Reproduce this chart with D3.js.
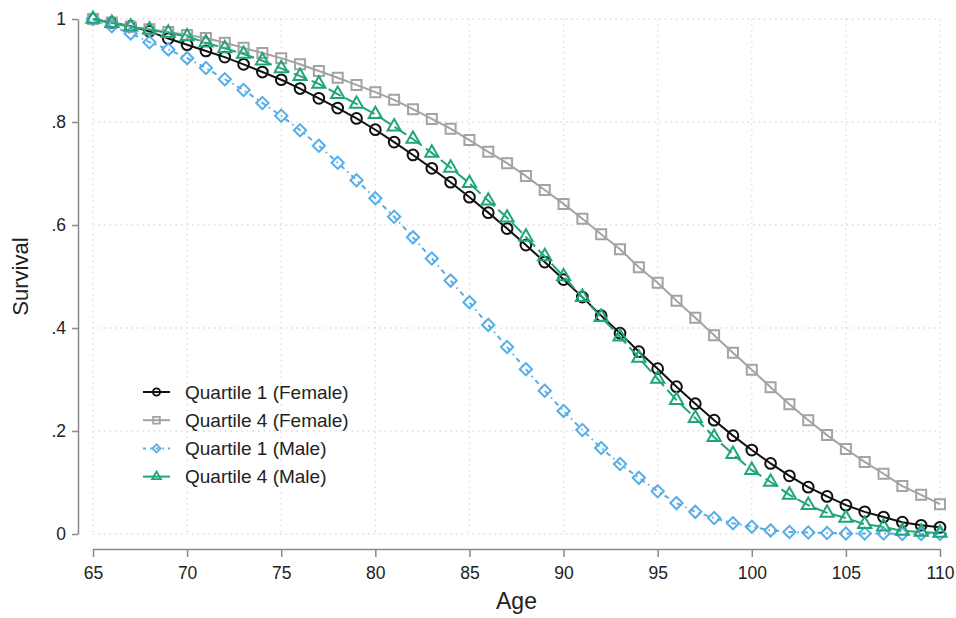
<!DOCTYPE html>
<html>
<head>
<meta charset="utf-8">
<script src="https://cdn.jsdelivr.net/npm/d3@7"></script>
<style>
	body { margin: 0; background: #fff; }
	text { font-family: "Liberation Sans", Arial, sans-serif; fill: #222; }
</style>
</head>
<body>
<svg id="chart"></svg>
<script>
const ages = d3.range(65, 111);

const q1Female = [1, 0.993, 0.986, 0.976, 0.962, 0.950, 0.938, 0.926, 0.912, 0.897,
	0.882, 0.865, 0.846, 0.827, 0.807, 0.785, 0.761, 0.736, 0.710, 0.683,
	0.654, 0.624, 0.593, 0.561, 0.528, 0.494, 0.460, 0.424, 0.390, 0.354,
	0.321, 0.286, 0.253, 0.221, 0.191, 0.163, 0.137, 0.113, 0.091, 0.073,
	0.056, 0.043, 0.033, 0.023, 0.017, 0.013];

const q4Female = [1, 0.993, 0.985, 0.980, 0.975, 0.969, 0.963, 0.954, 0.944, 0.934,
	0.924, 0.912, 0.899, 0.886, 0.872, 0.858, 0.843, 0.825, 0.806, 0.787,
	0.765, 0.742, 0.720, 0.695, 0.668, 0.641, 0.612, 0.582, 0.553, 0.518,
	0.488, 0.453, 0.420, 0.386, 0.352, 0.319, 0.285, 0.252, 0.221, 0.192,
	0.165, 0.140, 0.117, 0.093, 0.076, 0.058];

const q1Male = [1, 0.986, 0.972, 0.955, 0.941, 0.924, 0.905, 0.883, 0.862, 0.837,
	0.812, 0.784, 0.754, 0.721, 0.687, 0.652, 0.616, 0.576, 0.535, 0.492,
	0.450, 0.406, 0.363, 0.320, 0.278, 0.239, 0.202, 0.167, 0.136, 0.109,
	0.083, 0.060, 0.043, 0.031, 0.021, 0.014, 0.007, 0.004, 0.003, 0.002,
	0.001, 0.001, 0.001, 0, 0, 0];

const q4Male = [1, 0.992, 0.985, 0.979, 0.973, 0.966, 0.954, 0.943, 0.932, 0.919,
	0.904, 0.889, 0.874, 0.854, 0.835, 0.815, 0.791, 0.767, 0.740, 0.711,
	0.681, 0.647, 0.614, 0.577, 0.539, 0.500, 0.460, 0.421, 0.383, 0.342,
	0.301, 0.260, 0.225, 0.188, 0.155, 0.124, 0.101, 0.076, 0.056, 0.041,
	0.031, 0.019, 0.014, 0.006, 0.004, 0.002];

const xTicks = [65, 70, 75, 80, 85, 90, 95, 100, 105, 110];
const yTicks = [0, 0.2, 0.4, 0.6, 0.8, 1];
const yTickLabels = ["0", ".2", ".4", ".6", ".8", "1"];

const seriesNames = ["Quartile 1 (Female)", "Quartile 4 (Female)", "Quartile 1 (Male)", "Quartile 4 (Male)"];
const seriesValues = [q1Female, q4Female, q1Male, q4Male];

const width = 956;
const height = 618;

// rotate: diamond is a square turned 45 degrees
const styles = [
	{ color: "#111", dash: null, marker: d3.symbolCircle, size: 90, rotate: 0 },
	{ color: "#a3a3a3", dash: null, marker: d3.symbolSquare, size: 100, rotate: 0 },
	{ color: "#55aee8", dash: "5,4,1.5,4", marker: d3.symbolSquare, size: 75, rotate: 45 },
	{ color: "#1ea677", dash: "14,5", marker: d3.symbolTriangle, size: 75, rotate: 0 }
];

const svg = d3.select("#chart")
	.attr("width", width)
	.attr("height", height);

const x = d3.scaleLinear().domain([65, 110]).range([93, 940]);
const y = d3.scaleLinear().domain([0, 1]).range([534, 19]);

// grid
const grid = svg.append("g");
grid.selectAll(".vg").data(xTicks).join("line")
	.attr("x1", d => x(d)).attr("x2", d => x(d))
	.attr("y1", y(1)).attr("y2", y(0))
	.attr("stroke", "#dcdcdc").attr("stroke-width", 1.3)
	.attr("stroke-dasharray", "1.5,4");
grid.selectAll(".hg").data(yTicks).join("line")
	.attr("y1", d => y(d)).attr("y2", d => y(d))
	.attr("x1", x(65)).attr("x2", x(110))
	.attr("stroke", "#dcdcdc").attr("stroke-width", 1.3)
	.attr("stroke-dasharray", "1.5,4");

// axes
const xAxis = d3.axisBottom(x).tickValues(xTicks).tickSize(8).tickPadding(6).tickSizeOuter(0);
const yAxis = d3.axisLeft(y).tickValues(yTicks).tickSize(6).tickPadding(6).tickSizeOuter(0)
	.tickFormat((d, i) => yTickLabels[i]);

const gx = svg.append("g")
	.attr("transform", "translate(0, 549)")
	.call(xAxis);
const gy = svg.append("g")
	.attr("transform", "translate(78, 0)")
	.call(yAxis);

[gx, gy].forEach(g => {
	g.select(".domain").attr("stroke", "#8a8a8a").attr("stroke-width", 1.5);
	g.selectAll(".tick line").attr("stroke", "#8a8a8a").attr("stroke-width", 1.5);
	g.selectAll(".tick text")
		.style("font-family", "'Liberation Sans', Arial, sans-serif")
		.style("font-size", "17.5px")
		.attr("fill", "#222");
});
gx.selectAll(".tick text").attr("dy", "0.9em");

svg.append("text")
	.attr("x", x(87.5)).attr("y", 609)
	.attr("text-anchor", "middle")
	.style("font-size", "23px")
	.text("Age");

svg.append("text")
	.attr("transform", `translate(28, ${y(0.5)}) rotate(-90)`)
	.attr("text-anchor", "middle")
	.style("font-size", "22px")
	.text("Survival");

// series
const line = d3.line()
	.x((d, i) => x(ages[i]))
	.y(d => y(d));

seriesValues.forEach((vals, k) => {
	const st = styles[k];
	const g = svg.append("g");
	g.append("path")
		.datum(vals)
		.attr("d", line)
		.attr("fill", "none")
		.attr("stroke", st.color)
		.attr("stroke-width", 2)
		.attr("stroke-dasharray", st.dash);
	g.selectAll("path.m").data(vals).join("path")
		.attr("class", "m")
		.attr("transform", (d, i) => `translate(${x(ages[i])}, ${y(d)}) rotate(${st.rotate})`)
		.attr("d", d3.symbol().type(st.marker).size(st.size))
		.attr("fill", "none")
		.attr("stroke", st.color)
		.attr("stroke-width", 2);
});

// legend
const legend = svg.append("g").attr("transform", "translate(143, 392)");
seriesNames.forEach((name, k) => {
	const st = styles[k];
	const row = legend.append("g").attr("transform", `translate(0, ${k * 28.2})`);
	row.append("line")
		.attr("x1", 0).attr("x2", 27)
		.attr("stroke", st.color).attr("stroke-width", 2)
		.attr("stroke-dasharray", k === 2 ? "3,4,1.5,4" : null);
	row.append("path")
		.attr("transform", `translate(13.5, 0) rotate(${st.rotate})`)
		.attr("d", d3.symbol().type(st.marker).size(st.size * 0.45))
		.attr("fill", "none").attr("stroke", st.color).attr("stroke-width", 1.8);
	row.append("text")
		.attr("x", 42).attr("dy", "0.35em")
		.style("font-size", "19px")
		.text(name);
});
</script>
</body>
</html>
